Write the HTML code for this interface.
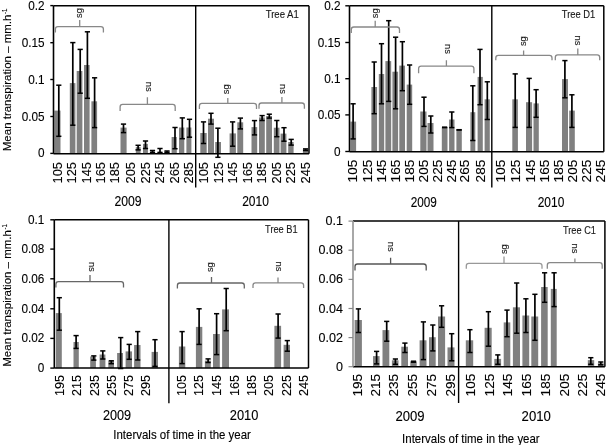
<!DOCTYPE html>
<html><head><meta charset="utf-8"><style>
html,body{margin:0;padding:0;background:#fff;width:606px;height:445px;overflow:hidden}
svg{display:block;will-change:transform;filter:blur(0.35px)}
text{font-family:"Liberation Sans", sans-serif;stroke:#000;stroke-width:0.12px}
</style></head><body>
<svg width="606" height="445" viewBox="0 0 606 445" font-family='"Liberation Sans", sans-serif'>
<rect width="606" height="445" fill="#fff"/>
<rect x="54.3" y="110.6" width="6.2" height="43.2" fill="#808080"/>
<rect x="69.8" y="83.1" width="5.6" height="70.7" fill="#808080"/>
<rect x="76.7" y="71.0" width="5.7" height="82.8" fill="#808080"/>
<rect x="84.0" y="65.0" width="5.6" height="88.8" fill="#808080"/>
<rect x="91.4" y="101.3" width="5.7" height="52.5" fill="#808080"/>
<rect x="120.5" y="127.6" width="6.1" height="26.2" fill="#808080"/>
<rect x="135.8" y="147.1" width="4.8" height="6.7" fill="#808080"/>
<rect x="143.0" y="143.9" width="4.9" height="9.9" fill="#808080"/>
<rect x="150.2" y="151.4" width="4.6" height="2.4" fill="#808080"/>
<rect x="157.7" y="151.7" width="4.6" height="2.1" fill="#808080"/>
<rect x="164.6" y="151.4" width="4.7" height="2.4" fill="#808080"/>
<rect x="171.6" y="137.0" width="5.2" height="16.8" fill="#808080"/>
<rect x="179.0" y="127.5" width="5.3" height="26.3" fill="#808080"/>
<rect x="186.4" y="127.5" width="5.0" height="26.3" fill="#808080"/>
<rect x="200.3" y="133.0" width="6.4" height="20.8" fill="#808080"/>
<rect x="208.0" y="118.7" width="6.0" height="35.1" fill="#808080"/>
<rect x="215.2" y="142.0" width="5.8" height="11.8" fill="#808080"/>
<rect x="229.6" y="133.4" width="6.3" height="20.4" fill="#808080"/>
<rect x="237.3" y="122.3" width="5.9" height="31.5" fill="#808080"/>
<rect x="251.5" y="127.1" width="5.7" height="26.7" fill="#808080"/>
<rect x="259.0" y="117.4" width="5.8" height="36.4" fill="#808080"/>
<rect x="266.2" y="116.0" width="5.8" height="37.8" fill="#808080"/>
<rect x="273.8" y="127.7" width="5.7" height="26.1" fill="#808080"/>
<rect x="280.6" y="133.6" width="5.8" height="20.2" fill="#808080"/>
<rect x="288.2" y="142.0" width="5.4" height="11.8" fill="#808080"/>
<rect x="302.9" y="149.2" width="5.4" height="4.6" fill="#808080"/>
<line x1="58.8" y1="85.2" x2="58.8" y2="136.3" stroke="#000" stroke-width="1.7"/>
<line x1="56.199999999999996" y1="85.2" x2="61.4" y2="85.2" stroke="#000" stroke-width="1.5"/>
<line x1="56.199999999999996" y1="136.3" x2="61.4" y2="136.3" stroke="#000" stroke-width="1.5"/>
<line x1="72.8" y1="42.6" x2="72.8" y2="125.2" stroke="#000" stroke-width="1.7"/>
<line x1="70.2" y1="42.6" x2="75.39999999999999" y2="42.6" stroke="#000" stroke-width="1.5"/>
<line x1="70.2" y1="125.2" x2="75.39999999999999" y2="125.2" stroke="#000" stroke-width="1.5"/>
<line x1="80.2" y1="49.4" x2="80.2" y2="93.2" stroke="#000" stroke-width="1.7"/>
<line x1="77.60000000000001" y1="49.4" x2="82.8" y2="49.4" stroke="#000" stroke-width="1.5"/>
<line x1="77.60000000000001" y1="93.2" x2="82.8" y2="93.2" stroke="#000" stroke-width="1.5"/>
<line x1="87.4" y1="31.8" x2="87.4" y2="98.3" stroke="#000" stroke-width="1.7"/>
<line x1="84.80000000000001" y1="31.8" x2="90.0" y2="31.8" stroke="#000" stroke-width="1.5"/>
<line x1="84.80000000000001" y1="98.3" x2="90.0" y2="98.3" stroke="#000" stroke-width="1.5"/>
<line x1="94.6" y1="77.8" x2="94.6" y2="127.6" stroke="#000" stroke-width="1.7"/>
<line x1="92.0" y1="77.8" x2="97.19999999999999" y2="77.8" stroke="#000" stroke-width="1.5"/>
<line x1="92.0" y1="127.6" x2="97.19999999999999" y2="127.6" stroke="#000" stroke-width="1.5"/>
<line x1="123.5" y1="124.1" x2="123.5" y2="132.6" stroke="#000" stroke-width="1.7"/>
<line x1="120.9" y1="124.1" x2="126.1" y2="124.1" stroke="#000" stroke-width="1.5"/>
<line x1="120.9" y1="132.6" x2="126.1" y2="132.6" stroke="#000" stroke-width="1.5"/>
<line x1="138.1" y1="145.3" x2="138.1" y2="149.9" stroke="#000" stroke-width="1.7"/>
<line x1="135.5" y1="145.3" x2="140.7" y2="145.3" stroke="#000" stroke-width="1.5"/>
<line x1="135.5" y1="149.9" x2="140.7" y2="149.9" stroke="#000" stroke-width="1.5"/>
<line x1="145.5" y1="141.0" x2="145.5" y2="148.5" stroke="#000" stroke-width="1.7"/>
<line x1="142.9" y1="141.0" x2="148.1" y2="141.0" stroke="#000" stroke-width="1.5"/>
<line x1="142.9" y1="148.5" x2="148.1" y2="148.5" stroke="#000" stroke-width="1.5"/>
<line x1="152.5" y1="150.5" x2="152.5" y2="152.5" stroke="#000" stroke-width="1.7"/>
<line x1="149.9" y1="150.5" x2="155.1" y2="150.5" stroke="#000" stroke-width="1.5"/>
<line x1="149.9" y1="152.5" x2="155.1" y2="152.5" stroke="#000" stroke-width="1.5"/>
<line x1="160.0" y1="148.5" x2="160.0" y2="152.5" stroke="#000" stroke-width="1.7"/>
<line x1="157.4" y1="148.5" x2="162.6" y2="148.5" stroke="#000" stroke-width="1.5"/>
<line x1="157.4" y1="152.5" x2="162.6" y2="152.5" stroke="#000" stroke-width="1.5"/>
<line x1="167.0" y1="151.0" x2="167.0" y2="152.5" stroke="#000" stroke-width="1.7"/>
<line x1="164.4" y1="151.0" x2="169.6" y2="151.0" stroke="#000" stroke-width="1.5"/>
<line x1="164.4" y1="152.5" x2="169.6" y2="152.5" stroke="#000" stroke-width="1.5"/>
<line x1="175.0" y1="127.5" x2="175.0" y2="148.7" stroke="#000" stroke-width="1.7"/>
<line x1="172.4" y1="127.5" x2="177.6" y2="127.5" stroke="#000" stroke-width="1.5"/>
<line x1="172.4" y1="148.7" x2="177.6" y2="148.7" stroke="#000" stroke-width="1.5"/>
<line x1="182.3" y1="117.9" x2="182.3" y2="138.7" stroke="#000" stroke-width="1.7"/>
<line x1="179.70000000000002" y1="117.9" x2="184.9" y2="117.9" stroke="#000" stroke-width="1.5"/>
<line x1="179.70000000000002" y1="138.7" x2="184.9" y2="138.7" stroke="#000" stroke-width="1.5"/>
<line x1="189.5" y1="119.3" x2="189.5" y2="137.2" stroke="#000" stroke-width="1.7"/>
<line x1="186.9" y1="119.3" x2="192.1" y2="119.3" stroke="#000" stroke-width="1.5"/>
<line x1="186.9" y1="137.2" x2="192.1" y2="137.2" stroke="#000" stroke-width="1.5"/>
<line x1="203.5" y1="121.9" x2="203.5" y2="143.5" stroke="#000" stroke-width="1.7"/>
<line x1="200.9" y1="121.9" x2="206.1" y2="121.9" stroke="#000" stroke-width="1.5"/>
<line x1="200.9" y1="143.5" x2="206.1" y2="143.5" stroke="#000" stroke-width="1.5"/>
<line x1="211.0" y1="113.3" x2="211.0" y2="124.1" stroke="#000" stroke-width="1.7"/>
<line x1="208.4" y1="113.3" x2="213.6" y2="113.3" stroke="#000" stroke-width="1.5"/>
<line x1="208.4" y1="124.1" x2="213.6" y2="124.1" stroke="#000" stroke-width="1.5"/>
<line x1="217.9" y1="128.2" x2="217.9" y2="157.3" stroke="#000" stroke-width="1.7"/>
<line x1="215.3" y1="128.2" x2="220.5" y2="128.2" stroke="#000" stroke-width="1.5"/>
<line x1="215.3" y1="157.3" x2="220.5" y2="157.3" stroke="#000" stroke-width="1.5"/>
<line x1="232.6" y1="121.9" x2="232.6" y2="146.2" stroke="#000" stroke-width="1.7"/>
<line x1="230.0" y1="121.9" x2="235.2" y2="121.9" stroke="#000" stroke-width="1.5"/>
<line x1="230.0" y1="146.2" x2="235.2" y2="146.2" stroke="#000" stroke-width="1.5"/>
<line x1="240.4" y1="118.1" x2="240.4" y2="128.9" stroke="#000" stroke-width="1.7"/>
<line x1="237.8" y1="118.1" x2="243.0" y2="118.1" stroke="#000" stroke-width="1.5"/>
<line x1="237.8" y1="128.9" x2="243.0" y2="128.9" stroke="#000" stroke-width="1.5"/>
<line x1="254.5" y1="120.6" x2="254.5" y2="134.9" stroke="#000" stroke-width="1.7"/>
<line x1="251.9" y1="120.6" x2="257.1" y2="120.6" stroke="#000" stroke-width="1.5"/>
<line x1="251.9" y1="134.9" x2="257.1" y2="134.9" stroke="#000" stroke-width="1.5"/>
<line x1="262.1" y1="115.6" x2="262.1" y2="120.5" stroke="#000" stroke-width="1.7"/>
<line x1="259.5" y1="115.6" x2="264.70000000000005" y2="115.6" stroke="#000" stroke-width="1.5"/>
<line x1="259.5" y1="120.5" x2="264.70000000000005" y2="120.5" stroke="#000" stroke-width="1.5"/>
<line x1="269.3" y1="114.2" x2="269.3" y2="118.1" stroke="#000" stroke-width="1.7"/>
<line x1="266.7" y1="114.2" x2="271.90000000000003" y2="114.2" stroke="#000" stroke-width="1.5"/>
<line x1="266.7" y1="118.1" x2="271.90000000000003" y2="118.1" stroke="#000" stroke-width="1.5"/>
<line x1="276.8" y1="120.5" x2="276.8" y2="136.7" stroke="#000" stroke-width="1.7"/>
<line x1="274.2" y1="120.5" x2="279.40000000000003" y2="120.5" stroke="#000" stroke-width="1.5"/>
<line x1="274.2" y1="136.7" x2="279.40000000000003" y2="136.7" stroke="#000" stroke-width="1.5"/>
<line x1="284.0" y1="127.7" x2="284.0" y2="141.2" stroke="#000" stroke-width="1.7"/>
<line x1="281.4" y1="127.7" x2="286.6" y2="127.7" stroke="#000" stroke-width="1.5"/>
<line x1="281.4" y1="141.2" x2="286.6" y2="141.2" stroke="#000" stroke-width="1.5"/>
<line x1="291.2" y1="139.4" x2="291.2" y2="145.1" stroke="#000" stroke-width="1.7"/>
<line x1="288.59999999999997" y1="139.4" x2="293.8" y2="139.4" stroke="#000" stroke-width="1.5"/>
<line x1="288.59999999999997" y1="145.1" x2="293.8" y2="145.1" stroke="#000" stroke-width="1.5"/>
<line x1="305.6" y1="148.9" x2="305.6" y2="150.5" stroke="#000" stroke-width="1.7"/>
<line x1="303.0" y1="148.9" x2="308.20000000000005" y2="148.9" stroke="#000" stroke-width="1.5"/>
<line x1="303.0" y1="150.5" x2="308.20000000000005" y2="150.5" stroke="#000" stroke-width="1.5"/>
<line x1="53.5" y1="5.7" x2="309.0" y2="5.7" stroke="#000" stroke-width="1.5"/>
<line x1="309.0" y1="5.7" x2="309.0" y2="153.8" stroke="#000" stroke-width="1.5"/>
<line x1="53.5" y1="153.8" x2="309.0" y2="153.8" stroke="#000" stroke-width="1.5"/>
<line x1="53.5" y1="5.7" x2="53.5" y2="153.8" stroke="#000" stroke-width="1.6"/>
<line x1="195.7" y1="5.7" x2="195.7" y2="187.5" stroke="#000" stroke-width="1.4"/>
<line x1="50.3" y1="5.6" x2="53.5" y2="5.6" stroke="#000" stroke-width="1.4"/>
<text transform="translate(44.5,9.6) scale(0.87,1)" font-size="13.5" text-anchor="end">0.2</text>
<line x1="50.3" y1="42.7" x2="53.5" y2="42.7" stroke="#000" stroke-width="1.4"/>
<text transform="translate(44.5,46.7) scale(0.87,1)" font-size="13.5" text-anchor="end">0.15</text>
<line x1="50.3" y1="79.5" x2="53.5" y2="79.5" stroke="#000" stroke-width="1.4"/>
<text transform="translate(44.5,83.5) scale(0.87,1)" font-size="13.5" text-anchor="end">0.1</text>
<line x1="50.3" y1="116.5" x2="53.5" y2="116.5" stroke="#000" stroke-width="1.4"/>
<text transform="translate(44.5,120.5) scale(0.87,1)" font-size="13.5" text-anchor="end">0.05</text>
<line x1="50.3" y1="153.4" x2="53.5" y2="153.4" stroke="#000" stroke-width="1.4"/>
<text transform="translate(44.5,157.4) scale(0.87,1)" font-size="13.5" text-anchor="end">0</text>
<path d="M55.4,32.4 L55.4,29.1 Q55.4,26.6 57.9,26.6 L100.9,26.6 Q103.4,26.6 103.4,29.1 L103.4,32.4 M79.7,26.6 L79.7,20.1" fill="none" stroke="#888" stroke-width="1.3"/>
<text transform="translate(82.3,18.0) rotate(-90)" font-size="9.4" text-anchor="start" fill="#222">sg</text>
<path d="M120.1,110.9 L120.1,106.9 Q120.1,104.4 122.6,104.4 L172.7,104.4 Q175.2,104.4 175.2,106.9 L175.2,110.9 M147.4,104.4 L147.4,97.3" fill="none" stroke="#888" stroke-width="1.3"/>
<text transform="translate(146.0,81.7) rotate(90)" font-size="9.4" text-anchor="start" fill="#222">ns</text>
<path d="M199.4,109.1 L199.4,105.9 Q199.4,103.4 201.9,103.4 L254.0,103.4 Q256.5,103.4 256.5,105.9 L256.5,109.1 M227.8,103.4 L227.8,98.0" fill="none" stroke="#888" stroke-width="1.3"/>
<text transform="translate(229.1,94.2) rotate(-90)" font-size="9.4" text-anchor="start" fill="#222">sg</text>
<path d="M259.0,108.8 L259.0,105.5 Q259.0,103.0 261.5,103.0 L301.9,103.0 Q304.4,103.0 304.4,105.5 L304.4,108.8 M281.9,103.0 L281.9,97.0" fill="none" stroke="#888" stroke-width="1.3"/>
<text transform="translate(280.3,84.0) rotate(90)" font-size="9.4" text-anchor="start" fill="#222">ns</text>
<text x="265.7" y="17.9" font-size="10.2" text-anchor="start" fill="#222" textLength="33.1" lengthAdjust="spacingAndGlyphs">Tree A1</text>
<text transform="translate(61.6,162.0) rotate(-90)" font-size="12.2" text-anchor="end" fill="#000" textLength="21.4" lengthAdjust="spacingAndGlyphs">105</text>
<text transform="translate(76.4,162.0) rotate(-90)" font-size="12.2" text-anchor="end" fill="#000" textLength="21.4" lengthAdjust="spacingAndGlyphs">125</text>
<text transform="translate(90.8,162.0) rotate(-90)" font-size="12.2" text-anchor="end" fill="#000" textLength="21.4" lengthAdjust="spacingAndGlyphs">145</text>
<text transform="translate(105.0,162.0) rotate(-90)" font-size="12.2" text-anchor="end" fill="#000" textLength="21.4" lengthAdjust="spacingAndGlyphs">165</text>
<text transform="translate(119.4,162.0) rotate(-90)" font-size="12.2" text-anchor="end" fill="#000" textLength="21.4" lengthAdjust="spacingAndGlyphs">185</text>
<text transform="translate(134.6,162.0) rotate(-90)" font-size="12.2" text-anchor="end" fill="#000" textLength="21.4" lengthAdjust="spacingAndGlyphs">205</text>
<text transform="translate(150.0,162.0) rotate(-90)" font-size="12.2" text-anchor="end" fill="#000" textLength="21.4" lengthAdjust="spacingAndGlyphs">225</text>
<text transform="translate(164.3,162.0) rotate(-90)" font-size="12.2" text-anchor="end" fill="#000" textLength="21.4" lengthAdjust="spacingAndGlyphs">245</text>
<text transform="translate(178.6,162.0) rotate(-90)" font-size="12.2" text-anchor="end" fill="#000" textLength="21.4" lengthAdjust="spacingAndGlyphs">265</text>
<text transform="translate(193.0,162.0) rotate(-90)" font-size="12.2" text-anchor="end" fill="#000" textLength="21.4" lengthAdjust="spacingAndGlyphs">285</text>
<text transform="translate(208.0,162.0) rotate(-90)" font-size="12.2" text-anchor="end" fill="#000" textLength="21.4" lengthAdjust="spacingAndGlyphs">105</text>
<text transform="translate(222.5,162.0) rotate(-90)" font-size="12.2" text-anchor="end" fill="#000" textLength="21.4" lengthAdjust="spacingAndGlyphs">125</text>
<text transform="translate(237.3,162.0) rotate(-90)" font-size="12.2" text-anchor="end" fill="#000" textLength="21.4" lengthAdjust="spacingAndGlyphs">145</text>
<text transform="translate(251.7,162.0) rotate(-90)" font-size="12.2" text-anchor="end" fill="#000" textLength="21.4" lengthAdjust="spacingAndGlyphs">165</text>
<text transform="translate(266.3,162.0) rotate(-90)" font-size="12.2" text-anchor="end" fill="#000" textLength="21.4" lengthAdjust="spacingAndGlyphs">185</text>
<text transform="translate(280.6,162.0) rotate(-90)" font-size="12.2" text-anchor="end" fill="#000" textLength="21.4" lengthAdjust="spacingAndGlyphs">205</text>
<text transform="translate(295.2,162.0) rotate(-90)" font-size="12.2" text-anchor="end" fill="#000" textLength="21.4" lengthAdjust="spacingAndGlyphs">225</text>
<text transform="translate(309.6,162.0) rotate(-90)" font-size="12.2" text-anchor="end" fill="#000" textLength="21.4" lengthAdjust="spacingAndGlyphs">245</text>
<text x="114.4" y="205.8" font-size="14" text-anchor="start" fill="#000" textLength="27.1" lengthAdjust="spacingAndGlyphs">2009</text>
<text x="242.2" y="205.7" font-size="14" text-anchor="start" fill="#000" textLength="26.7" lengthAdjust="spacingAndGlyphs">2010</text>
<text transform="translate(11.4,151.2) rotate(-90)" font-size="11.8" text-anchor="start" fill="#000" textLength="136.6" lengthAdjust="spacingAndGlyphs">Mean transpiration – mm.h</text>
<text transform="translate(6.8,13.9) rotate(-90)" font-size="7.5" text-anchor="start" fill="#000" textLength="5.4" lengthAdjust="spacingAndGlyphs">-1</text>
<rect x="350.4" y="121.6" width="5.7" height="30.2" fill="#808080"/>
<rect x="371.4" y="87.0" width="5.7" height="64.8" fill="#808080"/>
<rect x="378.8" y="74.0" width="5.4" height="77.8" fill="#808080"/>
<rect x="385.4" y="61.1" width="5.8" height="90.7" fill="#808080"/>
<rect x="392.4" y="71.7" width="5.7" height="80.1" fill="#808080"/>
<rect x="399.3" y="65.6" width="5.7" height="86.2" fill="#808080"/>
<rect x="406.7" y="84.6" width="5.5" height="67.2" fill="#808080"/>
<rect x="420.3" y="111.5" width="6.2" height="40.3" fill="#808080"/>
<rect x="427.5" y="123.0" width="6.0" height="28.8" fill="#808080"/>
<rect x="441.8" y="127.3" width="5.7" height="24.5" fill="#808080"/>
<rect x="449.1" y="119.5" width="5.4" height="32.3" fill="#808080"/>
<rect x="456.4" y="129.8" width="5.4" height="22.0" fill="#808080"/>
<rect x="470.4" y="112.2" width="4.9" height="39.6" fill="#808080"/>
<rect x="477.6" y="76.9" width="5.2" height="74.9" fill="#808080"/>
<rect x="484.6" y="99.3" width="5.2" height="52.5" fill="#808080"/>
<rect x="512.3" y="99.3" width="5.6" height="52.5" fill="#808080"/>
<rect x="526.0" y="102.2" width="6.1" height="49.6" fill="#808080"/>
<rect x="533.5" y="103.4" width="5.3" height="48.4" fill="#808080"/>
<rect x="562.0" y="79.1" width="6.0" height="72.7" fill="#808080"/>
<rect x="569.2" y="110.6" width="5.6" height="41.2" fill="#808080"/>
<line x1="353.1" y1="103.8" x2="353.1" y2="138.9" stroke="#000" stroke-width="1.7"/>
<line x1="350.5" y1="103.8" x2="355.70000000000005" y2="103.8" stroke="#000" stroke-width="1.5"/>
<line x1="350.5" y1="138.9" x2="355.70000000000005" y2="138.9" stroke="#000" stroke-width="1.5"/>
<line x1="374.2" y1="62.0" x2="374.2" y2="113.7" stroke="#000" stroke-width="1.7"/>
<line x1="371.59999999999997" y1="62.0" x2="376.8" y2="62.0" stroke="#000" stroke-width="1.5"/>
<line x1="371.59999999999997" y1="113.7" x2="376.8" y2="113.7" stroke="#000" stroke-width="1.5"/>
<line x1="381.5" y1="43.7" x2="381.5" y2="103.8" stroke="#000" stroke-width="1.7"/>
<line x1="378.9" y1="43.7" x2="384.1" y2="43.7" stroke="#000" stroke-width="1.5"/>
<line x1="378.9" y1="103.8" x2="384.1" y2="103.8" stroke="#000" stroke-width="1.5"/>
<line x1="388.7" y1="20.7" x2="388.7" y2="101.4" stroke="#000" stroke-width="1.7"/>
<line x1="386.09999999999997" y1="20.7" x2="391.3" y2="20.7" stroke="#000" stroke-width="1.5"/>
<line x1="386.09999999999997" y1="101.4" x2="391.3" y2="101.4" stroke="#000" stroke-width="1.5"/>
<line x1="395.6" y1="37.2" x2="395.6" y2="108.8" stroke="#000" stroke-width="1.7"/>
<line x1="393.0" y1="37.2" x2="398.20000000000005" y2="37.2" stroke="#000" stroke-width="1.5"/>
<line x1="393.0" y1="108.8" x2="398.20000000000005" y2="108.8" stroke="#000" stroke-width="1.5"/>
<line x1="402.4" y1="41.7" x2="402.4" y2="90.7" stroke="#000" stroke-width="1.7"/>
<line x1="399.79999999999995" y1="41.7" x2="405.0" y2="41.7" stroke="#000" stroke-width="1.5"/>
<line x1="399.79999999999995" y1="90.7" x2="405.0" y2="90.7" stroke="#000" stroke-width="1.5"/>
<line x1="409.6" y1="65.0" x2="409.6" y2="104.3" stroke="#000" stroke-width="1.7"/>
<line x1="407.0" y1="65.0" x2="412.20000000000005" y2="65.0" stroke="#000" stroke-width="1.5"/>
<line x1="407.0" y1="104.3" x2="412.20000000000005" y2="104.3" stroke="#000" stroke-width="1.5"/>
<line x1="424.0" y1="97.2" x2="424.0" y2="126.4" stroke="#000" stroke-width="1.7"/>
<line x1="421.4" y1="97.2" x2="426.6" y2="97.2" stroke="#000" stroke-width="1.5"/>
<line x1="421.4" y1="126.4" x2="426.6" y2="126.4" stroke="#000" stroke-width="1.5"/>
<line x1="430.8" y1="116.0" x2="430.8" y2="133.0" stroke="#000" stroke-width="1.7"/>
<line x1="428.2" y1="116.0" x2="433.40000000000003" y2="116.0" stroke="#000" stroke-width="1.5"/>
<line x1="428.2" y1="133.0" x2="433.40000000000003" y2="133.0" stroke="#000" stroke-width="1.5"/>
<line x1="444.6" y1="127.2" x2="444.6" y2="127.6" stroke="#000" stroke-width="1.7"/>
<line x1="442.0" y1="127.2" x2="447.20000000000005" y2="127.2" stroke="#000" stroke-width="1.5"/>
<line x1="442.0" y1="127.6" x2="447.20000000000005" y2="127.6" stroke="#000" stroke-width="1.5"/>
<line x1="451.8" y1="112.0" x2="451.8" y2="127.6" stroke="#000" stroke-width="1.7"/>
<line x1="449.2" y1="112.0" x2="454.40000000000003" y2="112.0" stroke="#000" stroke-width="1.5"/>
<line x1="449.2" y1="127.6" x2="454.40000000000003" y2="127.6" stroke="#000" stroke-width="1.5"/>
<line x1="459.1" y1="129.7" x2="459.1" y2="130.0" stroke="#000" stroke-width="1.7"/>
<line x1="456.5" y1="129.7" x2="461.70000000000005" y2="129.7" stroke="#000" stroke-width="1.5"/>
<line x1="456.5" y1="130.0" x2="461.70000000000005" y2="130.0" stroke="#000" stroke-width="1.5"/>
<line x1="472.8" y1="85.8" x2="472.8" y2="140.5" stroke="#000" stroke-width="1.7"/>
<line x1="470.2" y1="85.8" x2="475.40000000000003" y2="85.8" stroke="#000" stroke-width="1.5"/>
<line x1="470.2" y1="140.5" x2="475.40000000000003" y2="140.5" stroke="#000" stroke-width="1.5"/>
<line x1="480.0" y1="49.4" x2="480.0" y2="104.7" stroke="#000" stroke-width="1.7"/>
<line x1="477.4" y1="49.4" x2="482.6" y2="49.4" stroke="#000" stroke-width="1.5"/>
<line x1="477.4" y1="104.7" x2="482.6" y2="104.7" stroke="#000" stroke-width="1.5"/>
<line x1="487.3" y1="81.8" x2="487.3" y2="119.5" stroke="#000" stroke-width="1.7"/>
<line x1="484.7" y1="81.8" x2="489.90000000000003" y2="81.8" stroke="#000" stroke-width="1.5"/>
<line x1="484.7" y1="119.5" x2="489.90000000000003" y2="119.5" stroke="#000" stroke-width="1.5"/>
<line x1="515.2" y1="73.9" x2="515.2" y2="127.4" stroke="#000" stroke-width="1.7"/>
<line x1="512.6" y1="73.9" x2="517.8000000000001" y2="73.9" stroke="#000" stroke-width="1.5"/>
<line x1="512.6" y1="127.4" x2="517.8000000000001" y2="127.4" stroke="#000" stroke-width="1.5"/>
<line x1="529.2" y1="78.4" x2="529.2" y2="127.4" stroke="#000" stroke-width="1.7"/>
<line x1="526.6" y1="78.4" x2="531.8000000000001" y2="78.4" stroke="#000" stroke-width="1.5"/>
<line x1="526.6" y1="127.4" x2="531.8000000000001" y2="127.4" stroke="#000" stroke-width="1.5"/>
<line x1="536.1" y1="89.7" x2="536.1" y2="117.3" stroke="#000" stroke-width="1.7"/>
<line x1="533.5" y1="89.7" x2="538.7" y2="89.7" stroke="#000" stroke-width="1.5"/>
<line x1="533.5" y1="117.3" x2="538.7" y2="117.3" stroke="#000" stroke-width="1.5"/>
<line x1="564.9" y1="60.6" x2="564.9" y2="97.8" stroke="#000" stroke-width="1.7"/>
<line x1="562.3" y1="60.6" x2="567.5" y2="60.6" stroke="#000" stroke-width="1.5"/>
<line x1="562.3" y1="97.8" x2="567.5" y2="97.8" stroke="#000" stroke-width="1.5"/>
<line x1="571.9" y1="94.8" x2="571.9" y2="127.4" stroke="#000" stroke-width="1.7"/>
<line x1="569.3" y1="94.8" x2="574.5" y2="94.8" stroke="#000" stroke-width="1.5"/>
<line x1="569.3" y1="127.4" x2="574.5" y2="127.4" stroke="#000" stroke-width="1.5"/>
<line x1="349.5" y1="5.8" x2="603.8" y2="5.8" stroke="#000" stroke-width="1.5"/>
<line x1="603.8" y1="5.8" x2="603.8" y2="151.8" stroke="#000" stroke-width="1.5"/>
<line x1="349.5" y1="151.8" x2="603.8" y2="151.8" stroke="#000" stroke-width="1.5"/>
<line x1="349.5" y1="5.8" x2="349.5" y2="151.8" stroke="#000" stroke-width="1.6"/>
<line x1="491.8" y1="5.8" x2="491.8" y2="187.6" stroke="#000" stroke-width="1.4"/>
<line x1="345.3" y1="5.8" x2="349.5" y2="5.8" stroke="#000" stroke-width="1.4"/>
<text transform="translate(340.5,9.8) scale(0.87,1)" font-size="13.5" text-anchor="end">0.2</text>
<line x1="345.3" y1="42.5" x2="349.5" y2="42.5" stroke="#000" stroke-width="1.4"/>
<text transform="translate(340.5,46.5) scale(0.87,1)" font-size="13.5" text-anchor="end">0.15</text>
<line x1="345.3" y1="78.7" x2="349.5" y2="78.7" stroke="#000" stroke-width="1.4"/>
<text transform="translate(340.5,82.7) scale(0.87,1)" font-size="13.5" text-anchor="end">0.1</text>
<line x1="345.3" y1="114.9" x2="349.5" y2="114.9" stroke="#000" stroke-width="1.4"/>
<text transform="translate(340.5,118.9) scale(0.87,1)" font-size="13.5" text-anchor="end">0.05</text>
<line x1="345.3" y1="151.5" x2="349.5" y2="151.5" stroke="#000" stroke-width="1.4"/>
<text transform="translate(340.5,155.5) scale(0.87,1)" font-size="13.5" text-anchor="end">0</text>
<path d="M351.3,33.0 L351.3,29.5 Q351.3,27.0 353.8,27.0 L397.0,27.0 Q399.5,27.0 399.5,29.5 L399.5,33.0 M375.2,27.0 L375.2,20.7" fill="none" stroke="#888" stroke-width="1.3"/>
<text transform="translate(377.8,18.2) rotate(-90)" font-size="9.4" text-anchor="start" fill="#222">sg</text>
<path d="M418.6,73.2 L418.6,68.6 Q418.6,66.1 421.1,66.1 L471.4,66.1 Q473.9,66.1 473.9,68.6 L473.9,73.2 M446.4,66.1 L446.4,60.2" fill="none" stroke="#888" stroke-width="1.3"/>
<text transform="translate(444.6,44.0) rotate(90)" font-size="9.4" text-anchor="start" fill="#222">ns</text>
<path d="M495.8,60.3 L495.8,57.9 Q495.8,55.4 498.3,55.4 L549.5,55.4 Q552.0,55.4 552.0,57.9 L552.0,60.3 M523.6,55.4 L523.6,50.4" fill="none" stroke="#888" stroke-width="1.3"/>
<text transform="translate(525.5,46.1) rotate(-90)" font-size="9.4" text-anchor="start" fill="#222">sg</text>
<path d="M555.3,60.3 L555.3,57.4 Q555.3,54.9 557.8,54.9 L597.2,54.9 Q599.7,54.9 599.7,57.4 L599.7,60.3 M577.8,54.9 L577.8,48.6" fill="none" stroke="#888" stroke-width="1.3"/>
<text transform="translate(575.2,35.6) rotate(90)" font-size="9.4" text-anchor="start" fill="#222">ns</text>
<text x="561.8" y="17.9" font-size="10.2" text-anchor="start" fill="#222" textLength="33.4" lengthAdjust="spacingAndGlyphs">Tree D1</text>
<text transform="translate(357.3,159.7) rotate(-90)" font-size="12.2" text-anchor="end" fill="#000" textLength="22.7" lengthAdjust="spacingAndGlyphs">105</text>
<text transform="translate(371.8,159.7) rotate(-90)" font-size="12.2" text-anchor="end" fill="#000" textLength="22.7" lengthAdjust="spacingAndGlyphs">125</text>
<text transform="translate(385.9,159.7) rotate(-90)" font-size="12.2" text-anchor="end" fill="#000" textLength="22.7" lengthAdjust="spacingAndGlyphs">145</text>
<text transform="translate(399.7,159.7) rotate(-90)" font-size="12.2" text-anchor="end" fill="#000" textLength="22.7" lengthAdjust="spacingAndGlyphs">165</text>
<text transform="translate(413.7,159.7) rotate(-90)" font-size="12.2" text-anchor="end" fill="#000" textLength="22.7" lengthAdjust="spacingAndGlyphs">185</text>
<text transform="translate(427.7,159.7) rotate(-90)" font-size="12.2" text-anchor="end" fill="#000" textLength="22.7" lengthAdjust="spacingAndGlyphs">205</text>
<text transform="translate(441.7,159.7) rotate(-90)" font-size="12.2" text-anchor="end" fill="#000" textLength="22.7" lengthAdjust="spacingAndGlyphs">225</text>
<text transform="translate(455.6,159.7) rotate(-90)" font-size="12.2" text-anchor="end" fill="#000" textLength="22.7" lengthAdjust="spacingAndGlyphs">245</text>
<text transform="translate(469.3,159.7) rotate(-90)" font-size="12.2" text-anchor="end" fill="#000" textLength="22.7" lengthAdjust="spacingAndGlyphs">265</text>
<text transform="translate(485.0,159.7) rotate(-90)" font-size="12.2" text-anchor="end" fill="#000" textLength="22.7" lengthAdjust="spacingAndGlyphs">285</text>
<text transform="translate(505.4,159.7) rotate(-90)" font-size="12.2" text-anchor="end" fill="#000" textLength="22.7" lengthAdjust="spacingAndGlyphs">105</text>
<text transform="translate(520.0,159.7) rotate(-90)" font-size="12.2" text-anchor="end" fill="#000" textLength="22.7" lengthAdjust="spacingAndGlyphs">125</text>
<text transform="translate(534.5,159.7) rotate(-90)" font-size="12.2" text-anchor="end" fill="#000" textLength="22.7" lengthAdjust="spacingAndGlyphs">145</text>
<text transform="translate(548.5,159.7) rotate(-90)" font-size="12.2" text-anchor="end" fill="#000" textLength="22.7" lengthAdjust="spacingAndGlyphs">165</text>
<text transform="translate(563.1,159.7) rotate(-90)" font-size="12.2" text-anchor="end" fill="#000" textLength="22.7" lengthAdjust="spacingAndGlyphs">185</text>
<text transform="translate(577.0,159.7) rotate(-90)" font-size="12.2" text-anchor="end" fill="#000" textLength="22.7" lengthAdjust="spacingAndGlyphs">205</text>
<text transform="translate(591.2,159.7) rotate(-90)" font-size="12.2" text-anchor="end" fill="#000" textLength="22.7" lengthAdjust="spacingAndGlyphs">225</text>
<text transform="translate(604.6,159.7) rotate(-90)" font-size="12.2" text-anchor="end" fill="#000" textLength="22.7" lengthAdjust="spacingAndGlyphs">245</text>
<text x="410.7" y="207.4" font-size="14" text-anchor="start" fill="#000" textLength="26.2" lengthAdjust="spacingAndGlyphs">2009</text>
<text x="537.7" y="207.3" font-size="14" text-anchor="start" fill="#000" textLength="26.6" lengthAdjust="spacingAndGlyphs">2010</text>
<rect x="55.8" y="313.1" width="6.0" height="55.0" fill="#808080"/>
<rect x="73.5" y="342.0" width="5.3" height="26.1" fill="#808080"/>
<rect x="90.2" y="356.5" width="5.7" height="11.6" fill="#808080"/>
<rect x="99.6" y="354.5" width="5.8" height="13.6" fill="#808080"/>
<rect x="108.3" y="361.2" width="5.7" height="6.9" fill="#808080"/>
<rect x="117.1" y="353.0" width="5.9" height="15.1" fill="#808080"/>
<rect x="125.6" y="351.4" width="6.4" height="16.7" fill="#808080"/>
<rect x="134.1" y="345.0" width="6.4" height="23.1" fill="#808080"/>
<rect x="151.6" y="351.9" width="6.4" height="16.2" fill="#808080"/>
<rect x="178.9" y="346.5" width="6.4" height="21.6" fill="#808080"/>
<rect x="195.9" y="326.9" width="6.4" height="41.2" fill="#808080"/>
<rect x="204.9" y="360.6" width="5.9" height="7.5" fill="#808080"/>
<rect x="213.0" y="334.0" width="6.8" height="34.1" fill="#808080"/>
<rect x="222.1" y="309.4" width="6.9" height="58.7" fill="#808080"/>
<rect x="274.4" y="325.8" width="6.7" height="42.3" fill="#808080"/>
<rect x="283.6" y="344.8" width="6.4" height="23.3" fill="#808080"/>
<line x1="59.3" y1="297.7" x2="59.3" y2="330.2" stroke="#000" stroke-width="1.7"/>
<line x1="56.699999999999996" y1="297.7" x2="61.9" y2="297.7" stroke="#000" stroke-width="1.5"/>
<line x1="56.699999999999996" y1="330.2" x2="61.9" y2="330.2" stroke="#000" stroke-width="1.5"/>
<line x1="76.1" y1="335.6" x2="76.1" y2="348.4" stroke="#000" stroke-width="1.7"/>
<line x1="73.5" y1="335.6" x2="78.69999999999999" y2="335.6" stroke="#000" stroke-width="1.5"/>
<line x1="73.5" y1="348.4" x2="78.69999999999999" y2="348.4" stroke="#000" stroke-width="1.5"/>
<line x1="93.8" y1="355.9" x2="93.8" y2="360.1" stroke="#000" stroke-width="1.7"/>
<line x1="91.2" y1="355.9" x2="96.39999999999999" y2="355.9" stroke="#000" stroke-width="1.5"/>
<line x1="91.2" y1="360.1" x2="96.39999999999999" y2="360.1" stroke="#000" stroke-width="1.5"/>
<line x1="102.8" y1="350.9" x2="102.8" y2="359.0" stroke="#000" stroke-width="1.7"/>
<line x1="100.2" y1="350.9" x2="105.39999999999999" y2="350.9" stroke="#000" stroke-width="1.5"/>
<line x1="100.2" y1="359.0" x2="105.39999999999999" y2="359.0" stroke="#000" stroke-width="1.5"/>
<line x1="111.3" y1="360.8" x2="111.3" y2="363.7" stroke="#000" stroke-width="1.7"/>
<line x1="108.7" y1="360.8" x2="113.89999999999999" y2="360.8" stroke="#000" stroke-width="1.5"/>
<line x1="108.7" y1="363.7" x2="113.89999999999999" y2="363.7" stroke="#000" stroke-width="1.5"/>
<line x1="120.7" y1="337.6" x2="120.7" y2="368.5" stroke="#000" stroke-width="1.7"/>
<line x1="118.10000000000001" y1="337.6" x2="123.3" y2="337.6" stroke="#000" stroke-width="1.5"/>
<line x1="118.10000000000001" y1="368.5" x2="123.3" y2="368.5" stroke="#000" stroke-width="1.5"/>
<line x1="129.2" y1="344.4" x2="129.2" y2="359.3" stroke="#000" stroke-width="1.7"/>
<line x1="126.6" y1="344.4" x2="131.79999999999998" y2="344.4" stroke="#000" stroke-width="1.5"/>
<line x1="126.6" y1="359.3" x2="131.79999999999998" y2="359.3" stroke="#000" stroke-width="1.5"/>
<line x1="137.7" y1="331.6" x2="137.7" y2="360.0" stroke="#000" stroke-width="1.7"/>
<line x1="135.1" y1="331.6" x2="140.29999999999998" y2="331.6" stroke="#000" stroke-width="1.5"/>
<line x1="135.1" y1="360.0" x2="140.29999999999998" y2="360.0" stroke="#000" stroke-width="1.5"/>
<line x1="155.0" y1="339.7" x2="155.0" y2="366.4" stroke="#000" stroke-width="1.7"/>
<line x1="152.4" y1="339.7" x2="157.6" y2="339.7" stroke="#000" stroke-width="1.5"/>
<line x1="152.4" y1="366.4" x2="157.6" y2="366.4" stroke="#000" stroke-width="1.5"/>
<line x1="182.1" y1="331.6" x2="182.1" y2="363.6" stroke="#000" stroke-width="1.7"/>
<line x1="179.5" y1="331.6" x2="184.7" y2="331.6" stroke="#000" stroke-width="1.5"/>
<line x1="179.5" y1="363.6" x2="184.7" y2="363.6" stroke="#000" stroke-width="1.5"/>
<line x1="199.1" y1="308.8" x2="199.1" y2="344.4" stroke="#000" stroke-width="1.7"/>
<line x1="196.5" y1="308.8" x2="201.7" y2="308.8" stroke="#000" stroke-width="1.5"/>
<line x1="196.5" y1="344.4" x2="201.7" y2="344.4" stroke="#000" stroke-width="1.5"/>
<line x1="208.1" y1="358.9" x2="208.1" y2="362.5" stroke="#000" stroke-width="1.7"/>
<line x1="205.5" y1="358.9" x2="210.7" y2="358.9" stroke="#000" stroke-width="1.5"/>
<line x1="205.5" y1="362.5" x2="210.7" y2="362.5" stroke="#000" stroke-width="1.5"/>
<line x1="216.6" y1="313.7" x2="216.6" y2="354.6" stroke="#000" stroke-width="1.7"/>
<line x1="214.0" y1="313.7" x2="219.2" y2="313.7" stroke="#000" stroke-width="1.5"/>
<line x1="214.0" y1="354.6" x2="219.2" y2="354.6" stroke="#000" stroke-width="1.5"/>
<line x1="226.2" y1="288.5" x2="226.2" y2="330.7" stroke="#000" stroke-width="1.7"/>
<line x1="223.6" y1="288.5" x2="228.79999999999998" y2="288.5" stroke="#000" stroke-width="1.5"/>
<line x1="223.6" y1="330.7" x2="228.79999999999998" y2="330.7" stroke="#000" stroke-width="1.5"/>
<line x1="278.1" y1="314.0" x2="278.1" y2="338.1" stroke="#000" stroke-width="1.7"/>
<line x1="275.5" y1="314.0" x2="280.70000000000005" y2="314.0" stroke="#000" stroke-width="1.5"/>
<line x1="275.5" y1="338.1" x2="280.70000000000005" y2="338.1" stroke="#000" stroke-width="1.5"/>
<line x1="287.3" y1="340.6" x2="287.3" y2="351.2" stroke="#000" stroke-width="1.7"/>
<line x1="284.7" y1="340.6" x2="289.90000000000003" y2="340.6" stroke="#000" stroke-width="1.5"/>
<line x1="284.7" y1="351.2" x2="289.90000000000003" y2="351.2" stroke="#000" stroke-width="1.5"/>
<line x1="54.3" y1="219.8" x2="308.5" y2="219.8" stroke="#000" stroke-width="1.5"/>
<line x1="308.5" y1="219.8" x2="308.5" y2="368.1" stroke="#000" stroke-width="1.5"/>
<line x1="54.3" y1="368.1" x2="308.5" y2="368.1" stroke="#000" stroke-width="1.5"/>
<line x1="54.3" y1="219.8" x2="54.3" y2="368.1" stroke="#000" stroke-width="1.6"/>
<line x1="168.9" y1="219.8" x2="168.9" y2="403.2" stroke="#000" stroke-width="1.4"/>
<line x1="50.3" y1="219.8" x2="54.3" y2="219.8" stroke="#000" stroke-width="1.4"/>
<text transform="translate(44.3,223.8) scale(0.87,1)" font-size="13.5" text-anchor="end">0.1</text>
<line x1="50.3" y1="249.1" x2="54.3" y2="249.1" stroke="#000" stroke-width="1.4"/>
<text transform="translate(44.3,253.1) scale(0.87,1)" font-size="13.5" text-anchor="end">0.08</text>
<line x1="50.3" y1="278.8" x2="54.3" y2="278.8" stroke="#000" stroke-width="1.4"/>
<text transform="translate(44.3,282.8) scale(0.87,1)" font-size="13.5" text-anchor="end">0.06</text>
<line x1="50.3" y1="308.8" x2="54.3" y2="308.8" stroke="#000" stroke-width="1.4"/>
<text transform="translate(44.3,312.8) scale(0.87,1)" font-size="13.5" text-anchor="end">0.04</text>
<line x1="50.3" y1="338.4" x2="54.3" y2="338.4" stroke="#000" stroke-width="1.4"/>
<text transform="translate(44.3,342.4) scale(0.87,1)" font-size="13.5" text-anchor="end">0.02</text>
<line x1="50.3" y1="368.1" x2="54.3" y2="368.1" stroke="#000" stroke-width="1.4"/>
<text transform="translate(44.3,372.1) scale(0.87,1)" font-size="13.5" text-anchor="end">0</text>
<path d="M55.9,287.6 L55.9,284.2 Q55.9,281.7 58.4,281.7 L121.0,281.7 Q123.5,281.7 123.5,284.2 L123.5,287.6 M90.0,281.7 L90.0,275.1" fill="none" stroke="#666" stroke-width="1.3"/>
<text transform="translate(89.0,261.9) rotate(90)" font-size="9.4" text-anchor="start" fill="#222">ns</text>
<path d="M177.4,288.5 L177.4,285.5 Q177.4,283.0 179.9,283.0 L241.8,283.0 Q244.3,283.0 244.3,285.5 L244.3,288.5 M211.5,283.0 L211.5,277.0" fill="none" stroke="#666" stroke-width="1.3"/>
<text transform="translate(213.2,272.1) rotate(-90)" font-size="9.4" text-anchor="start" fill="#222">sg</text>
<path d="M253.0,288.0 L253.0,285.3 Q253.0,282.8 255.5,282.8 L301.1,282.8 Q303.6,282.8 303.6,285.3 L303.6,288.0 M278.0,282.8 L278.0,277.5" fill="none" stroke="#888" stroke-width="1.3"/>
<text transform="translate(276.0,261.5) rotate(90)" font-size="9.4" text-anchor="start" fill="#222">ns</text>
<text x="265.1" y="232.5" font-size="10.2" text-anchor="start" fill="#222" textLength="32.5" lengthAdjust="spacingAndGlyphs">Tree B1</text>
<text transform="translate(64.2,375.0) rotate(-90)" font-size="12.2" text-anchor="end" fill="#000" textLength="21.1" lengthAdjust="spacingAndGlyphs">195</text>
<text transform="translate(81.4,375.0) rotate(-90)" font-size="12.2" text-anchor="end" fill="#000" textLength="21.1" lengthAdjust="spacingAndGlyphs">215</text>
<text transform="translate(98.5,375.0) rotate(-90)" font-size="12.2" text-anchor="end" fill="#000" textLength="21.1" lengthAdjust="spacingAndGlyphs">235</text>
<text transform="translate(115.7,375.0) rotate(-90)" font-size="12.2" text-anchor="end" fill="#000" textLength="21.1" lengthAdjust="spacingAndGlyphs">255</text>
<text transform="translate(132.9,375.0) rotate(-90)" font-size="12.2" text-anchor="end" fill="#000" textLength="21.1" lengthAdjust="spacingAndGlyphs">275</text>
<text transform="translate(150.0,375.0) rotate(-90)" font-size="12.2" text-anchor="end" fill="#000" textLength="21.1" lengthAdjust="spacingAndGlyphs">295</text>
<text transform="translate(185.7,374.90000000000003) rotate(-90)" font-size="12.2" text-anchor="end" fill="#000" textLength="21.1" lengthAdjust="spacingAndGlyphs">105</text>
<text transform="translate(203.4,374.90000000000003) rotate(-90)" font-size="12.2" text-anchor="end" fill="#000" textLength="21.1" lengthAdjust="spacingAndGlyphs">125</text>
<text transform="translate(221.0,374.90000000000003) rotate(-90)" font-size="12.2" text-anchor="end" fill="#000" textLength="21.1" lengthAdjust="spacingAndGlyphs">145</text>
<text transform="translate(238.5,374.90000000000003) rotate(-90)" font-size="12.2" text-anchor="end" fill="#000" textLength="21.1" lengthAdjust="spacingAndGlyphs">165</text>
<text transform="translate(256.0,374.90000000000003) rotate(-90)" font-size="12.2" text-anchor="end" fill="#000" textLength="21.1" lengthAdjust="spacingAndGlyphs">185</text>
<text transform="translate(273.3,374.90000000000003) rotate(-90)" font-size="12.2" text-anchor="end" fill="#000" textLength="21.1" lengthAdjust="spacingAndGlyphs">205</text>
<text transform="translate(290.6,374.90000000000003) rotate(-90)" font-size="12.2" text-anchor="end" fill="#000" textLength="21.1" lengthAdjust="spacingAndGlyphs">225</text>
<text transform="translate(308.2,374.90000000000003) rotate(-90)" font-size="12.2" text-anchor="end" fill="#000" textLength="21.1" lengthAdjust="spacingAndGlyphs">245</text>
<text x="102.9" y="420.0" font-size="14" text-anchor="start" fill="#000" textLength="28.2" lengthAdjust="spacingAndGlyphs">2009</text>
<text x="229.8" y="419.5" font-size="14" text-anchor="start" fill="#000" textLength="28.6" lengthAdjust="spacingAndGlyphs">2010</text>
<text x="113.3" y="439.0" font-size="12.2" text-anchor="start" fill="#000" textLength="137.6" lengthAdjust="spacingAndGlyphs">Intervals of time in the year</text>
<text transform="translate(11.4,366.7) rotate(-90)" font-size="11.8" text-anchor="start" fill="#000" textLength="136.6" lengthAdjust="spacingAndGlyphs">Mean transpiration – mm.h</text>
<text transform="translate(6.8,229.4) rotate(-90)" font-size="7.5" text-anchor="start" fill="#000" textLength="5.4" lengthAdjust="spacingAndGlyphs">-1</text>
<rect x="354.6" y="320.0" width="7.3" height="46.7" fill="#808080"/>
<rect x="373.0" y="356.1" width="6.6" height="10.6" fill="#808080"/>
<rect x="382.5" y="330.1" width="6.8" height="36.6" fill="#808080"/>
<rect x="391.9" y="360.3" width="6.6" height="6.4" fill="#808080"/>
<rect x="401.3" y="346.7" width="6.7" height="20.0" fill="#808080"/>
<rect x="410.3" y="361.5" width="6.4" height="5.2" fill="#808080"/>
<rect x="419.6" y="340.3" width="6.9" height="26.4" fill="#808080"/>
<rect x="429.0" y="337.2" width="6.7" height="29.5" fill="#808080"/>
<rect x="438.0" y="316.5" width="7.1" height="50.2" fill="#808080"/>
<rect x="447.5" y="347.4" width="7.0" height="19.3" fill="#808080"/>
<rect x="465.8" y="340.3" width="7.4" height="26.4" fill="#808080"/>
<rect x="484.6" y="327.8" width="7.1" height="38.9" fill="#808080"/>
<rect x="494.3" y="358.9" width="6.8" height="7.8" fill="#808080"/>
<rect x="503.7" y="322.4" width="6.6" height="44.3" fill="#808080"/>
<rect x="512.9" y="307.3" width="7.1" height="59.4" fill="#808080"/>
<rect x="522.4" y="315.5" width="6.8" height="51.2" fill="#808080"/>
<rect x="531.3" y="316.5" width="6.9" height="50.2" fill="#808080"/>
<rect x="541.1" y="287.0" width="6.6" height="79.7" fill="#808080"/>
<rect x="550.8" y="288.9" width="5.9" height="77.8" fill="#808080"/>
<rect x="587.8" y="360.1" width="6.4" height="6.6" fill="#808080"/>
<rect x="597.9" y="363.2" width="5.7" height="3.5" fill="#808080"/>
<line x1="358.4" y1="308.9" x2="358.4" y2="332.5" stroke="#000" stroke-width="1.7"/>
<line x1="355.79999999999995" y1="308.9" x2="361.0" y2="308.9" stroke="#000" stroke-width="1.5"/>
<line x1="355.79999999999995" y1="332.5" x2="361.0" y2="332.5" stroke="#000" stroke-width="1.5"/>
<line x1="376.6" y1="351.4" x2="376.6" y2="363.9" stroke="#000" stroke-width="1.7"/>
<line x1="374.0" y1="351.4" x2="379.20000000000005" y2="351.4" stroke="#000" stroke-width="1.5"/>
<line x1="374.0" y1="363.9" x2="379.20000000000005" y2="363.9" stroke="#000" stroke-width="1.5"/>
<line x1="386.7" y1="321.4" x2="386.7" y2="341.2" stroke="#000" stroke-width="1.7"/>
<line x1="384.09999999999997" y1="321.4" x2="389.3" y2="321.4" stroke="#000" stroke-width="1.5"/>
<line x1="384.09999999999997" y1="341.2" x2="389.3" y2="341.2" stroke="#000" stroke-width="1.5"/>
<line x1="395.4" y1="359.0" x2="395.4" y2="364.3" stroke="#000" stroke-width="1.7"/>
<line x1="392.79999999999995" y1="359.0" x2="398.0" y2="359.0" stroke="#000" stroke-width="1.5"/>
<line x1="392.79999999999995" y1="364.3" x2="398.0" y2="364.3" stroke="#000" stroke-width="1.5"/>
<line x1="404.9" y1="343.1" x2="404.9" y2="352.5" stroke="#000" stroke-width="1.7"/>
<line x1="402.29999999999995" y1="343.1" x2="407.5" y2="343.1" stroke="#000" stroke-width="1.5"/>
<line x1="402.29999999999995" y1="352.5" x2="407.5" y2="352.5" stroke="#000" stroke-width="1.5"/>
<line x1="413.5" y1="361.2" x2="413.5" y2="362.2" stroke="#000" stroke-width="1.7"/>
<line x1="410.9" y1="361.2" x2="416.1" y2="361.2" stroke="#000" stroke-width="1.5"/>
<line x1="410.9" y1="362.2" x2="416.1" y2="362.2" stroke="#000" stroke-width="1.5"/>
<line x1="423.4" y1="321.9" x2="423.4" y2="359.6" stroke="#000" stroke-width="1.7"/>
<line x1="420.79999999999995" y1="321.9" x2="426.0" y2="321.9" stroke="#000" stroke-width="1.5"/>
<line x1="420.79999999999995" y1="359.6" x2="426.0" y2="359.6" stroke="#000" stroke-width="1.5"/>
<line x1="432.8" y1="325.0" x2="432.8" y2="350.9" stroke="#000" stroke-width="1.7"/>
<line x1="430.2" y1="325.0" x2="435.40000000000003" y2="325.0" stroke="#000" stroke-width="1.5"/>
<line x1="430.2" y1="350.9" x2="435.40000000000003" y2="350.9" stroke="#000" stroke-width="1.5"/>
<line x1="441.6" y1="305.8" x2="441.6" y2="327.3" stroke="#000" stroke-width="1.7"/>
<line x1="439.0" y1="305.8" x2="444.20000000000005" y2="305.8" stroke="#000" stroke-width="1.5"/>
<line x1="439.0" y1="327.3" x2="444.20000000000005" y2="327.3" stroke="#000" stroke-width="1.5"/>
<line x1="451.7" y1="333.7" x2="451.7" y2="360.8" stroke="#000" stroke-width="1.7"/>
<line x1="449.09999999999997" y1="333.7" x2="454.3" y2="333.7" stroke="#000" stroke-width="1.5"/>
<line x1="449.09999999999997" y1="360.8" x2="454.3" y2="360.8" stroke="#000" stroke-width="1.5"/>
<line x1="469.9" y1="329.7" x2="469.9" y2="352.5" stroke="#000" stroke-width="1.7"/>
<line x1="467.29999999999995" y1="329.7" x2="472.5" y2="329.7" stroke="#000" stroke-width="1.5"/>
<line x1="467.29999999999995" y1="352.5" x2="472.5" y2="352.5" stroke="#000" stroke-width="1.5"/>
<line x1="488.4" y1="311.7" x2="488.4" y2="346.2" stroke="#000" stroke-width="1.7"/>
<line x1="485.79999999999995" y1="311.7" x2="491.0" y2="311.7" stroke="#000" stroke-width="1.5"/>
<line x1="485.79999999999995" y1="346.2" x2="491.0" y2="346.2" stroke="#000" stroke-width="1.5"/>
<line x1="497.8" y1="354.9" x2="497.8" y2="364.3" stroke="#000" stroke-width="1.7"/>
<line x1="495.2" y1="354.9" x2="500.40000000000003" y2="354.9" stroke="#000" stroke-width="1.5"/>
<line x1="495.2" y1="364.3" x2="500.40000000000003" y2="364.3" stroke="#000" stroke-width="1.5"/>
<line x1="507.0" y1="310.1" x2="507.0" y2="336.7" stroke="#000" stroke-width="1.7"/>
<line x1="504.4" y1="310.1" x2="509.6" y2="310.1" stroke="#000" stroke-width="1.5"/>
<line x1="504.4" y1="336.7" x2="509.6" y2="336.7" stroke="#000" stroke-width="1.5"/>
<line x1="516.7" y1="283.0" x2="516.7" y2="333.2" stroke="#000" stroke-width="1.7"/>
<line x1="514.1" y1="283.0" x2="519.3000000000001" y2="283.0" stroke="#000" stroke-width="1.5"/>
<line x1="514.1" y1="333.2" x2="519.3000000000001" y2="333.2" stroke="#000" stroke-width="1.5"/>
<line x1="525.9" y1="298.8" x2="525.9" y2="332.5" stroke="#000" stroke-width="1.7"/>
<line x1="523.3" y1="298.8" x2="528.5" y2="298.8" stroke="#000" stroke-width="1.5"/>
<line x1="523.3" y1="332.5" x2="528.5" y2="332.5" stroke="#000" stroke-width="1.5"/>
<line x1="534.9" y1="294.3" x2="534.9" y2="340.3" stroke="#000" stroke-width="1.7"/>
<line x1="532.3" y1="294.3" x2="537.5" y2="294.3" stroke="#000" stroke-width="1.5"/>
<line x1="532.3" y1="340.3" x2="537.5" y2="340.3" stroke="#000" stroke-width="1.5"/>
<line x1="544.6" y1="272.8" x2="544.6" y2="302.3" stroke="#000" stroke-width="1.7"/>
<line x1="542.0" y1="272.8" x2="547.2" y2="272.8" stroke="#000" stroke-width="1.5"/>
<line x1="542.0" y1="302.3" x2="547.2" y2="302.3" stroke="#000" stroke-width="1.5"/>
<line x1="554.1" y1="272.8" x2="554.1" y2="306.6" stroke="#000" stroke-width="1.7"/>
<line x1="551.5" y1="272.8" x2="556.7" y2="272.8" stroke="#000" stroke-width="1.5"/>
<line x1="551.5" y1="306.6" x2="556.7" y2="306.6" stroke="#000" stroke-width="1.5"/>
<line x1="590.8" y1="357.7" x2="590.8" y2="364.3" stroke="#000" stroke-width="1.7"/>
<line x1="588.1999999999999" y1="357.7" x2="593.4" y2="357.7" stroke="#000" stroke-width="1.5"/>
<line x1="588.1999999999999" y1="364.3" x2="593.4" y2="364.3" stroke="#000" stroke-width="1.5"/>
<line x1="600.8" y1="362.0" x2="600.8" y2="364.8" stroke="#000" stroke-width="1.7"/>
<line x1="598.1999999999999" y1="362.0" x2="603.4" y2="362.0" stroke="#000" stroke-width="1.5"/>
<line x1="598.1999999999999" y1="364.8" x2="603.4" y2="364.8" stroke="#000" stroke-width="1.5"/>
<line x1="353.0" y1="221.1" x2="604.9" y2="221.1" stroke="#000" stroke-width="1.5"/>
<line x1="604.9" y1="221.1" x2="604.9" y2="366.7" stroke="#000" stroke-width="1.5"/>
<line x1="353.0" y1="366.7" x2="604.9" y2="366.7" stroke="#000" stroke-width="1.5"/>
<line x1="353.0" y1="221.1" x2="353.0" y2="366.7" stroke="#999" stroke-width="1.7"/>
<line x1="458.6" y1="221.1" x2="458.6" y2="403.0" stroke="#000" stroke-width="1.4"/>
<line x1="348.5" y1="221.1" x2="353.0" y2="221.1" stroke="#888" stroke-width="1.2"/>
<text transform="translate(342.9,225.1) scale(0.93,1)" font-size="13.5" text-anchor="end">0.1</text>
<line x1="348.5" y1="250.2" x2="353.0" y2="250.2" stroke="#888" stroke-width="1.2"/>
<text transform="translate(342.9,254.2) scale(0.93,1)" font-size="13.5" text-anchor="end">0.08</text>
<line x1="348.5" y1="279.4" x2="353.0" y2="279.4" stroke="#888" stroke-width="1.2"/>
<text transform="translate(342.9,283.4) scale(0.93,1)" font-size="13.5" text-anchor="end">0.06</text>
<line x1="348.5" y1="308.5" x2="353.0" y2="308.5" stroke="#888" stroke-width="1.2"/>
<text transform="translate(342.9,312.5) scale(0.93,1)" font-size="13.5" text-anchor="end">0.04</text>
<line x1="348.5" y1="337.6" x2="353.0" y2="337.6" stroke="#888" stroke-width="1.2"/>
<text transform="translate(342.9,341.6) scale(0.93,1)" font-size="13.5" text-anchor="end">0.02</text>
<line x1="348.5" y1="366.7" x2="353.0" y2="366.7" stroke="#888" stroke-width="1.2"/>
<text transform="translate(342.9,370.7) scale(0.93,1)" font-size="13.5" text-anchor="end">0</text>
<path d="M355.0,270.5 L355.0,266.5 Q355.0,264.0 357.5,264.0 L423.7,264.0 Q426.2,264.0 426.2,266.5 L426.2,270.5 M390.6,264.0 L390.6,257.7" fill="none" stroke="#555" stroke-width="1.3"/>
<text transform="translate(388.2,241.8) rotate(90)" font-size="9.4" text-anchor="start" fill="#222">ns</text>
<path d="M466.3,268.7 L466.3,265.8 Q466.3,263.3 468.8,263.3 L539.5,263.3 Q542.0,263.3 542.0,265.8 L542.0,268.7 M504.0,263.3 L504.0,256.4" fill="none" stroke="#999" stroke-width="1.3"/>
<text transform="translate(506.9,254.1) rotate(-90)" font-size="9.4" text-anchor="start" fill="#222">sg</text>
<path d="M547.3,268.7 L547.3,265.2 Q547.3,262.7 549.8,262.7 L599.7,262.7 Q602.2,262.7 602.2,265.2 L602.2,268.7 M574.9,262.7 L574.9,258.4" fill="none" stroke="#888" stroke-width="1.3"/>
<text transform="translate(572.4,243.5) rotate(90)" font-size="9.4" text-anchor="start" fill="#222">ns</text>
<text x="563.0" y="234.2" font-size="10.2" text-anchor="start" fill="#222" textLength="32.9" lengthAdjust="spacingAndGlyphs">Tree C1</text>
<text transform="translate(361.9,374.0) rotate(-90)" font-size="12.2" text-anchor="end" fill="#000" textLength="22.6" lengthAdjust="spacingAndGlyphs">195</text>
<text transform="translate(380.1,374.0) rotate(-90)" font-size="12.2" text-anchor="end" fill="#000" textLength="22.6" lengthAdjust="spacingAndGlyphs">215</text>
<text transform="translate(398.3,374.0) rotate(-90)" font-size="12.2" text-anchor="end" fill="#000" textLength="22.6" lengthAdjust="spacingAndGlyphs">235</text>
<text transform="translate(417.0,374.0) rotate(-90)" font-size="12.2" text-anchor="end" fill="#000" textLength="22.6" lengthAdjust="spacingAndGlyphs">255</text>
<text transform="translate(435.9,374.0) rotate(-90)" font-size="12.2" text-anchor="end" fill="#000" textLength="22.6" lengthAdjust="spacingAndGlyphs">275</text>
<text transform="translate(454.7,374.0) rotate(-90)" font-size="12.2" text-anchor="end" fill="#000" textLength="22.6" lengthAdjust="spacingAndGlyphs">295</text>
<text transform="translate(474.6,373.8) rotate(-90)" font-size="12.2" text-anchor="end" fill="#000" textLength="22.6" lengthAdjust="spacingAndGlyphs">105</text>
<text transform="translate(493.7,373.8) rotate(-90)" font-size="12.2" text-anchor="end" fill="#000" textLength="22.6" lengthAdjust="spacingAndGlyphs">125</text>
<text transform="translate(512.2,373.8) rotate(-90)" font-size="12.2" text-anchor="end" fill="#000" textLength="22.6" lengthAdjust="spacingAndGlyphs">145</text>
<text transform="translate(531.0,373.8) rotate(-90)" font-size="12.2" text-anchor="end" fill="#000" textLength="22.6" lengthAdjust="spacingAndGlyphs">165</text>
<text transform="translate(549.8,373.8) rotate(-90)" font-size="12.2" text-anchor="end" fill="#000" textLength="22.6" lengthAdjust="spacingAndGlyphs">185</text>
<text transform="translate(568.5,373.8) rotate(-90)" font-size="12.2" text-anchor="end" fill="#000" textLength="22.6" lengthAdjust="spacingAndGlyphs">205</text>
<text transform="translate(587.0,373.8) rotate(-90)" font-size="12.2" text-anchor="end" fill="#000" textLength="22.6" lengthAdjust="spacingAndGlyphs">225</text>
<text transform="translate(605.3,373.8) rotate(-90)" font-size="12.2" text-anchor="end" fill="#000" textLength="22.6" lengthAdjust="spacingAndGlyphs">245</text>
<text x="395.4" y="421.2" font-size="14" text-anchor="start" fill="#000" textLength="29.2" lengthAdjust="spacingAndGlyphs">2009</text>
<text x="521.6" y="421.0" font-size="14" text-anchor="start" fill="#000" textLength="29.3" lengthAdjust="spacingAndGlyphs">2010</text>
<text x="402.1" y="442.8" font-size="12.2" text-anchor="start" fill="#000" textLength="137.6" lengthAdjust="spacingAndGlyphs">Intervals of time in the year</text>
</svg>
</body></html>
